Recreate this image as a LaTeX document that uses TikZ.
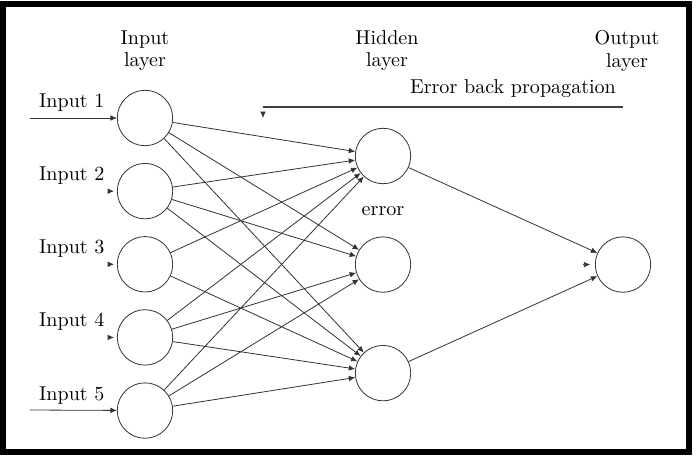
\documentclass[tikz,border=0pt]{standalone}
\usepackage{amsmath}
\usetikzlibrary{arrows.meta,positioning}

\begin{document}
\begin{tikzpicture}[x=0.0175cm, y=-0.0175cm, node distance=1.28cm,
    >={Latex[length=3.2pt,width=2.8pt]},
    neuron/.style={draw=black!80, circle, minimum size=0.97cm, inner sep=0pt},
    link/.style={->, draw=black!80, thin}]
    \useasboundingbox (0,0) rectangle (696,457);
    \draw[line width=0.12cm] (3,4) rectangle (689,452);
    % input layer
    \node[neuron] (in1) at (145,118) {};
    \node[neuron, below of=in1] (in2) {};
    \node[neuron, below of=in2] (in3) {};
    \node[neuron, below of=in3] (in4) {};
    \node[neuron, below of=in4] (in5) {};
    % hidden layer
    \node[neuron] (h1) at (383,156) {};
    \node[neuron, below of=h1, node distance=1.9cm] (h2) {};
    \node[neuron, below of=h2, node distance=1.9cm] (h3) {};
    % output layer
    \node[neuron, right of=h2, node distance=4.2cm] (out) {};
    % layer titles
    \node[above of=in1, node distance=1.17cm, align=center] (tin) {Input\\[-1pt]layer};
    \node[align=center] (thid) at (387,51) {Hidden\\[-1pt]layer};
    \node[align=center] (tout) at (627,51) {Output\\[-1pt]layer};
    % input labels
    \node[left of=in1, node distance=1.28cm, yshift=0.27cm] (l1) {Input 1};
    \node[left of=in2, node distance=1.28cm, yshift=0.27cm] (l2) {Input 2};
    \node[left of=in3, node distance=1.28cm, yshift=0.27cm] (l3) {Input 3};
    \node[left of=in4, node distance=1.28cm, yshift=0.27cm] (l4) {Input 4};
    \node[left of=in5, node distance=1.28cm, yshift=0.27cm] (l5) {Input 5};
    \node[below of=h1, node distance=0.96cm] (err) {error};
    % input arrows
    \coordinate (s1) at (30,118);
    \coordinate (s5) at (30,410);
    \draw[link] (s1) -- (in1);
    \draw[link] (s5) -- (in5);
    \draw[link] ([xshift=-0.15cm]in2.west) -- ([xshift=-0.05cm]in2.west);
    \draw[link] ([xshift=-0.15cm]in3.west) -- ([xshift=-0.05cm]in3.west);
    \draw[link] ([xshift=-0.15cm]in4.west) -- ([xshift=-0.05cm]in4.west);
    % input to hidden
    \draw[link] (in1) -- (h1);
    \draw[link] (in1) -- (h2);
    \draw[link] (in1) -- (h3);
    \draw[link] (in2) -- (h1);
    \draw[link] (in2) -- (h2);
    \draw[link] (in2) -- (h3);
    \draw[link] (in3) -- (h1);
    \draw[link] (in3) -- (h3);
    \draw[link] (in4) -- (h1);
    \draw[link] (in4) -- (h2);
    \draw[link] (in4) -- (h3);
    \draw[link] (in5) -- (h1);
    \draw[link] (in5) -- (h2);
    \draw[link] (in5) -- (h3);
    % hidden to output
    \draw[link] (h1) -- (out);
    \draw[link] (h3) -- (out);
    \draw[link] ([xshift=-0.2cm]out.west) -- ([xshift=-0.08cm]out.west);
    % error back propagation
    \coordinate (bpR) at (623,107);
    \coordinate (bpL) at (263,107);
    \coordinate (bpT) at (263,118);
    \draw[black!75, semithick] (bpR) -- (bpL);
    \node[above left of=bpR, node distance=0, anchor=south east, xshift=0cm, yshift=0.04cm] (bptxt) {Error back propagation};
    \draw[link] ([yshift=0.1cm]bpT) -- (bpT);
\end{tikzpicture}
\end{document}
